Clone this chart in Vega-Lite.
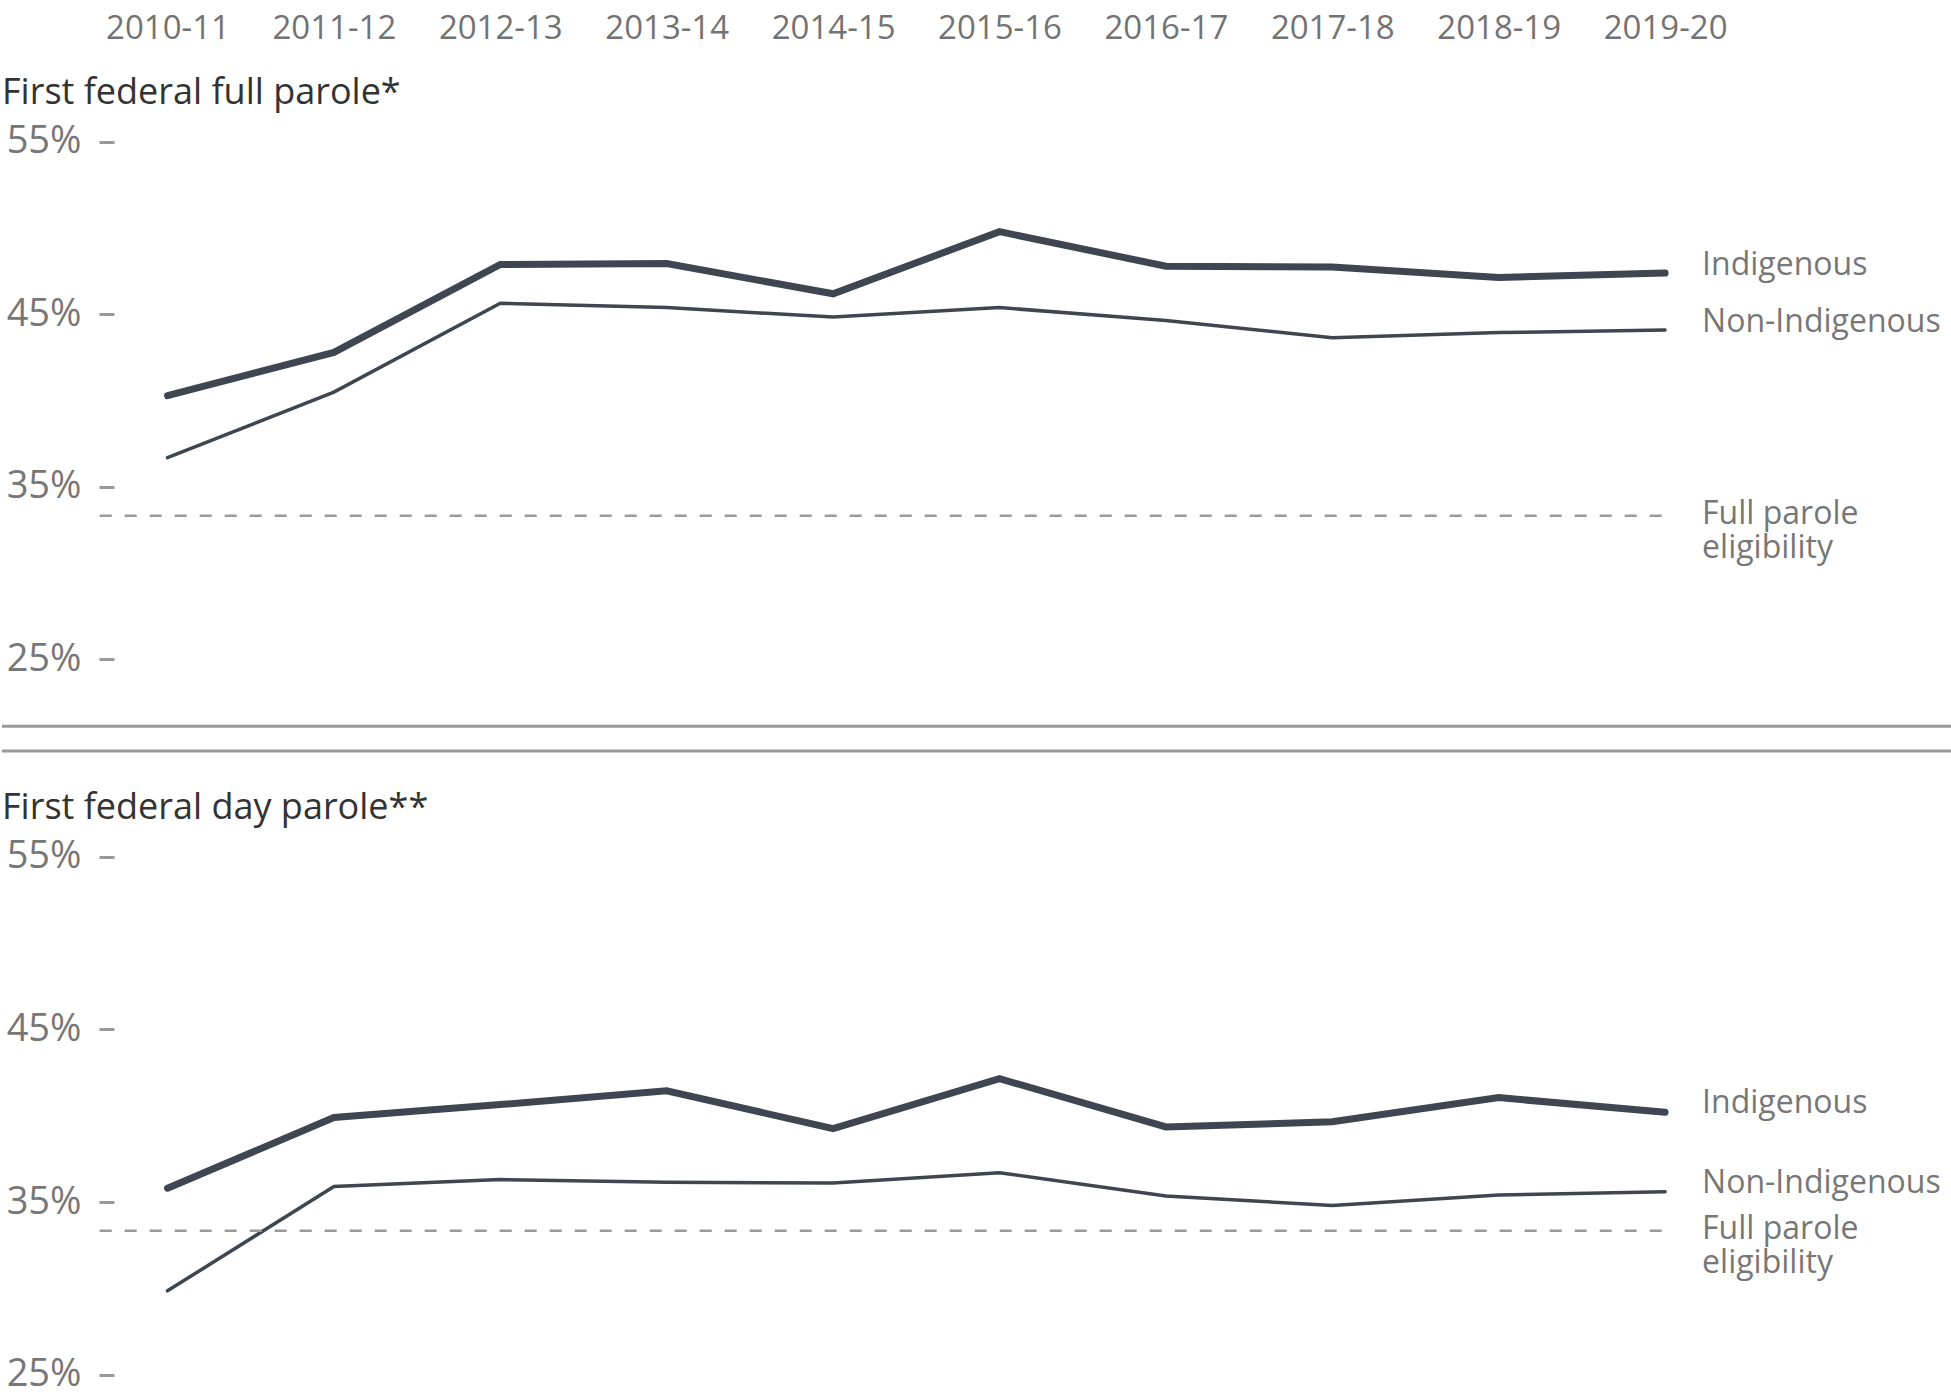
{
  "$schema": "https://vega.github.io/schema/vega-lite/v6.json",
  "padding": {"top": 12, "left": 0, "right": 0, "bottom": 0},
  "background": "white",
  "bounds": "flush",
  "spacing": 70,
  "config": {
    "view": {"stroke": null},
    "font": "Open Sans"
  },
  "datasets": {
    "rates": [
      {"panel": "full", "group": "Indigenous", "year": 2010, "rate": 40.3},
      {"panel": "full", "group": "Indigenous", "year": 2011, "rate": 42.8},
      {"panel": "full", "group": "Indigenous", "year": 2012, "rate": 47.9},
      {"panel": "full", "group": "Indigenous", "year": 2013, "rate": 47.95},
      {"panel": "full", "group": "Indigenous", "year": 2014, "rate": 46.2},
      {"panel": "full", "group": "Indigenous", "year": 2015, "rate": 49.8},
      {"panel": "full", "group": "Indigenous", "year": 2016, "rate": 47.8},
      {"panel": "full", "group": "Indigenous", "year": 2017, "rate": 47.75},
      {"panel": "full", "group": "Indigenous", "year": 2018, "rate": 47.15},
      {"panel": "full", "group": "Indigenous", "year": 2019, "rate": 47.4},
      {"panel": "full", "group": "Non-Indigenous", "year": 2010, "rate": 36.7},
      {"panel": "full", "group": "Non-Indigenous", "year": 2011, "rate": 40.5},
      {"panel": "full", "group": "Non-Indigenous", "year": 2012, "rate": 45.65},
      {"panel": "full", "group": "Non-Indigenous", "year": 2013, "rate": 45.4},
      {"panel": "full", "group": "Non-Indigenous", "year": 2014, "rate": 44.85},
      {"panel": "full", "group": "Non-Indigenous", "year": 2015, "rate": 45.4},
      {"panel": "full", "group": "Non-Indigenous", "year": 2016, "rate": 44.65},
      {"panel": "full", "group": "Non-Indigenous", "year": 2017, "rate": 43.65},
      {"panel": "full", "group": "Non-Indigenous", "year": 2018, "rate": 43.95},
      {"panel": "full", "group": "Non-Indigenous", "year": 2019, "rate": 44.1},
      {"panel": "day", "group": "Indigenous", "year": 2010, "rate": 35.8},
      {"panel": "day", "group": "Indigenous", "year": 2011, "rate": 39.9},
      {"panel": "day", "group": "Indigenous", "year": 2012, "rate": 40.65},
      {"panel": "day", "group": "Indigenous", "year": 2013, "rate": 41.45},
      {"panel": "day", "group": "Indigenous", "year": 2014, "rate": 39.25},
      {"panel": "day", "group": "Indigenous", "year": 2015, "rate": 42.15},
      {"panel": "day", "group": "Indigenous", "year": 2016, "rate": 39.35},
      {"panel": "day", "group": "Indigenous", "year": 2017, "rate": 39.65},
      {"panel": "day", "group": "Indigenous", "year": 2018, "rate": 41.05},
      {"panel": "day", "group": "Indigenous", "year": 2019, "rate": 40.2},
      {"panel": "day", "group": "Non-Indigenous", "year": 2010, "rate": 29.85},
      {"panel": "day", "group": "Non-Indigenous", "year": 2011, "rate": 35.9},
      {"panel": "day", "group": "Non-Indigenous", "year": 2012, "rate": 36.3},
      {"panel": "day", "group": "Non-Indigenous", "year": 2013, "rate": 36.15},
      {"panel": "day", "group": "Non-Indigenous", "year": 2014, "rate": 36.1},
      {"panel": "day", "group": "Non-Indigenous", "year": 2015, "rate": 36.7},
      {"panel": "day", "group": "Non-Indigenous", "year": 2016, "rate": 35.35},
      {"panel": "day", "group": "Non-Indigenous", "year": 2017, "rate": 34.8},
      {"panel": "day", "group": "Non-Indigenous", "year": 2018, "rate": 35.4},
      {"panel": "day", "group": "Non-Indigenous", "year": 2019, "rate": 35.6}
    ],
    "eligibility": [
      {"rate": 33.33, "label": "Full parole\neligibility"}
    ],
    "separators": [
      {"pos": 21.13},
      {"pos": 19.7}
    ]
  },
  "resolve": {"scale": {"x": "independent", "y": "independent"}},
  "vconcat": [
    {
      "width": 1951,
      "height": 714,
      "title": {"text": "First federal full parole*", "anchor": "start", "frame": "group", "baseline": "alphabetic", "offset": -128, "fontSize": 36, "font": "Open Sans", "fontWeight": "normal", "color": "#333333"},
      "layer": [
        {
          "data": {"name": "rates"},
          "transform": [{"filter": "datum.panel === 'full'"}],
          "mark": {"type": "line", "color": "#3e4652", "strokeCap": "round"},
          "encoding": {
            "x": {"field": "year", "type": "quantitative",
              "scale": {"domain": [2009.0054, 2020.7302], "nice": false, "zero": false},
              "axis": {"orient": "top", "values": [2010, 2011, 2012, 2013, 2014, 2015, 2016, 2017, 2018, 2019],
                "labelExpr": "datum.value + '-' + ((datum.value + 1) % 100)",
                "grid": false, "domain": false, "ticks": false, "tickSize": 0, "labelPadding": 10,
                "labelBaseline": "alphabetic", "labelFontSize": 33, "labelColor": "#737373", "labelFont": "Open Sans",
                "labelFlush": false, "labelOverlap": false, "title": null}},
            "y": {"field": "rate", "type": "quantitative",
              "scale": {"domain": [19.058, 60.449], "nice": false, "zero": false},
              "axis": {"orient": "left", "offset": -112, "values": [25, 35, 45, 55], "labelExpr": "datum.value + '%'",
                "grid": false, "domain": false, "ticks": true, "tickSize": 15, "tickColor": "#999999", "tickWidth": 3,
                "labelPadding": 18, "labelFontSize": 38, "labelColor": "#777777", "labelFont": "Open Sans",
                "labelBaseline": "middle", "labelFlush": false, "labelOverlap": false, "title": null}},
            "detail": {"field": "group", "type": "nominal"},
            "strokeWidth": {"field": "group", "type": "nominal", "scale": {"domain": ["Indigenous", "Non-Indigenous"], "range": [7, 3.5]}, "legend": null}
          }
        },
        {
          "data": {"name": "separators"},
          "mark": {"type": "rule", "color": "#999999", "strokeWidth": 3},
          "encoding": {"y": {"field": "pos", "type": "quantitative"}}
        },
        {
          "data": {"name": "eligibility"},
          "mark": {"type": "rule", "color": "#999999", "strokeWidth": 2.5, "strokeDash": [12, 13]},
          "encoding": {
            "x": {"datum": 2009.5925},
            "x2": {"datum": 2019.0294},
            "y": {"field": "rate", "type": "quantitative"}
          }
        },
        {
          "data": {"name": "eligibility"},
          "mark": {"type": "text", "align": "left", "baseline": "alphabetic", "dx": 37, "dy": 8, "fontSize": 32, "lineHeight": 34, "lineBreak": "\n", "color": "#777777", "font": "Open Sans"},
          "encoding": {
            "x": {"datum": 2019},
            "y": {"field": "rate", "type": "quantitative"},
            "text": {"field": "label"}
          }
        },
        {
          "data": {"name": "rates"},
          "transform": [{"filter": "datum.panel === 'full' && datum.year === 2019"}],
          "mark": {"type": "text", "align": "left", "baseline": "alphabetic", "dx": 37, "dy": 2, "fontSize": 32, "color": "#777777", "font": "Open Sans"},
          "encoding": {
            "x": {"field": "year", "type": "quantitative"},
            "y": {"field": "rate", "type": "quantitative"},
            "text": {"field": "group"}
          }
        }
      ]
    },
    {
      "width": 1951,
      "height": 570,
      "title": {"text": "First federal day parole**", "anchor": "start", "frame": "group", "baseline": "alphabetic", "offset": -23, "fontSize": 36, "font": "Open Sans", "fontWeight": "normal", "color": "#333333"},
      "layer": [
        {
          "data": {"name": "rates"},
          "transform": [{"filter": "datum.panel === 'day'"}],
          "mark": {"type": "line", "color": "#3e4652", "strokeCap": "round"},
          "encoding": {
            "x": {"field": "year", "type": "quantitative",
              "scale": {"domain": [2009.0054, 2020.7302], "nice": false, "zero": false},
              "axis": null},
            "y": {"field": "rate", "type": "quantitative",
              "scale": {"domain": [23.406, 56.449], "nice": false, "zero": false},
              "axis": {"orient": "left", "offset": -112, "values": [25, 35, 45, 55], "labelExpr": "datum.value + '%'",
                "grid": false, "domain": false, "ticks": true, "tickSize": 15, "tickColor": "#999999", "tickWidth": 3,
                "labelPadding": 18, "labelFontSize": 38, "labelColor": "#777777", "labelFont": "Open Sans",
                "labelBaseline": "middle", "labelFlush": false, "labelOverlap": false, "title": null}},
            "detail": {"field": "group", "type": "nominal"},
            "strokeWidth": {"field": "group", "type": "nominal", "scale": {"domain": ["Indigenous", "Non-Indigenous"], "range": [7, 3.5]}, "legend": null}
          }
        },
        {
          "data": {"name": "eligibility"},
          "mark": {"type": "rule", "color": "#999999", "strokeWidth": 2.5, "strokeDash": [12, 13]},
          "encoding": {
            "x": {"datum": 2009.5925},
            "x2": {"datum": 2019.0294},
            "y": {"field": "rate", "type": "quantitative"}
          }
        },
        {
          "data": {"name": "eligibility"},
          "mark": {"type": "text", "align": "left", "baseline": "alphabetic", "dx": 37, "dy": 8, "fontSize": 32, "lineHeight": 34, "lineBreak": "\n", "color": "#777777", "font": "Open Sans"},
          "encoding": {
            "x": {"datum": 2019},
            "y": {"field": "rate", "type": "quantitative"},
            "text": {"field": "label"}
          }
        },
        {
          "data": {"name": "rates"},
          "transform": [{"filter": "datum.panel === 'day' && datum.year === 2019"}],
          "mark": {"type": "text", "align": "left", "baseline": "alphabetic", "dx": 37, "dy": 1, "fontSize": 32, "color": "#777777", "font": "Open Sans"},
          "encoding": {
            "x": {"field": "year", "type": "quantitative"},
            "y": {"field": "rate", "type": "quantitative"},
            "text": {"field": "group"}
          }
        }
      ]
    }
  ]
}
